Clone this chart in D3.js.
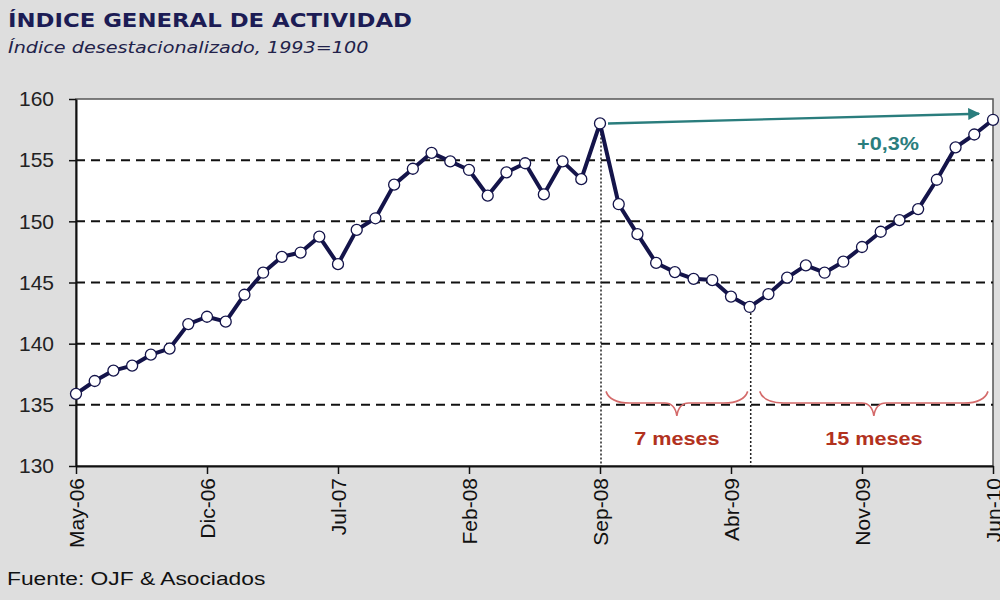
<!DOCTYPE html>
<html>
<head>
<meta charset="utf-8">
<script src="https://cdnjs.cloudflare.com/ajax/libs/d3/7.8.5/d3.min.js"></script>
<style>
  body { margin: 0; background: #dedede; }
  svg { display: block; }
</style>
</head>
<body>
<svg width="1000" height="600"></svg>
<script>
// months (May-06 .. Jun-10)
var months = [
  "May-06","Jun-06","Jul-06","Ago-06","Sep-06","Oct-06","Nov-06","Dic-06",
  "Ene-07","Feb-07","Mar-07","Abr-07","May-07","Jun-07","Jul-07","Ago-07",
  "Sep-07","Oct-07","Nov-07","Dic-07","Ene-08","Feb-08","Mar-08","Abr-08",
  "May-08","Jun-08","Jul-08","Ago-08","Sep-08","Oct-08","Nov-08","Dic-08",
  "Ene-09","Feb-09","Mar-09","Abr-09","May-09","Jun-09","Jul-09","Ago-09",
  "Sep-09","Oct-09","Nov-09","Dic-09","Ene-10","Feb-10","Mar-10","Abr-10",
  "May-10","Jun-10"
];
// index values
var values = [
  135.9, 136.95, 137.8, 138.2, 139.1, 139.6, 141.6, 142.2,
  141.8, 144.0, 145.8, 147.1, 147.45, 148.75, 146.5, 149.3,
  150.25, 153.0, 154.3, 155.6, 154.9, 154.2, 152.1, 154.0,
  154.75, 152.2, 154.9, 153.45, 158.0, 151.4, 148.95, 146.6,
  145.85, 145.3, 145.2, 143.85, 143.0, 144.05, 145.4, 146.4,
  145.8, 146.7, 147.9, 149.15, 150.1, 151.0, 153.4, 156.05,
  157.1, 158.3
];
var xTicks = ["May-06","Dic-06","Jul-07","Feb-08","Sep-08","Abr-09","Nov-09","Jun-10"];
var yTicks = [130, 135, 140, 145, 150, 155, 160];
var peakMonth = "Sep-08", troughMonth = "May-09";
var arrowEndValue = 158.8;
var braces = [
  { from: "Sep-08", to: "May-09", label: "7 meses" },
  { from: "May-09", to: "Jun-10", label: "15 meses" }
];

var mLeft = 76, mRight = 993, mTop = 99, mBottom = 466;
var stretch = 1.2; // the original picture is a bit wider than tall
var svg = d3.select("svg");

var x = d3.scalePoint().domain(months).range([mLeft, mRight]);
var y = d3.scaleLinear().domain([130, 160]).range([mBottom, mTop]);

function wideText(px, py, txt) {
  return svg.append("g")
    .attr("transform", "translate(" + px + "," + py + ") scale(" + stretch + ",1)")
    .append("text").text(txt);
}

// plot background
svg.append("rect")
  .attr("x", mLeft).attr("y", mTop)
  .attr("width", mRight - mLeft).attr("height", mBottom - mTop)
  .attr("fill", "#fff")
  .attr("stroke", "#555").attr("stroke-width", 1.5);

// dashed grid
svg.selectAll(".grid").data(yTicks.filter(function(d){ return d > 130 && d < 160; }))
  .enter().append("line")
  .attr("x1", mLeft).attr("x2", mRight)
  .attr("y1", function(d){ return y(d); }).attr("y2", function(d){ return y(d); })
  .attr("stroke", "#111").attr("stroke-width", 2)
  .attr("stroke-dasharray", "9,6");

// y axis
var yAxis = svg.append("g")
  .attr("transform", "translate(" + mLeft + ",0)")
  .call(d3.axisLeft(y).tickValues(yTicks).tickSize(7).tickSizeOuter(0).tickPadding(15));
yAxis.select(".domain").attr("stroke", "#111").attr("stroke-width", 2);
yAxis.selectAll(".tick line").attr("stroke", "#111").attr("stroke-width", 1.5);
yAxis.selectAll("text")
  .style("font-family", "'Liberation Sans', Arial, sans-serif")
  .style("font-size", "21px").attr("fill", "#222");

// x axis
var xAxis = svg.append("g")
  .attr("transform", "translate(0," + mBottom + ")")
  .call(d3.axisBottom(x).tickValues(xTicks).tickSize(8).tickSizeOuter(0));
xAxis.select(".domain").attr("stroke", "#111").attr("stroke-width", 2);
xAxis.selectAll(".tick line").attr("stroke", "#111").attr("stroke-width", 1.5);
xAxis.selectAll("text")
  .style("font-family", "'Liberation Sans', Arial, sans-serif")
  .style("font-size", "21px").attr("fill", "#111")
  .attr("transform", "rotate(-90)")
  .attr("x", -12).attr("y", 0).attr("dy", "0.36em")
  .style("text-anchor", "end");

// dotted verticals at peak and trough
[peakMonth, troughMonth].forEach(function(m){
  var i = months.indexOf(m);
  svg.append("line")
    .attr("x1", x(m) + 1).attr("x2", x(m) + 1)
    .attr("y1", y(values[i]) + 6).attr("y2", mBottom)
    .attr("stroke", "#222").attr("stroke-width", 1.5)
    .attr("stroke-dasharray", "2,2");
});

// braces
braces.forEach(function(b, k){
  var x1 = x(b.from) + (k === 0 ? 6 : 10), x2 = x(b.to) - (k === 0 ? 2 : 5);
  var xm = (x1 + x2) / 2;
  var yTop = y(136.1), yMid = y(135.15), yTip = y(134.1);
  var p = d3.path();
  p.moveTo(x1, yTop);
  p.quadraticCurveTo(x1 + 4, yMid, x1 + 24, yMid);
  p.lineTo(xm - 12, yMid);
  p.quadraticCurveTo(xm - 2, yMid, xm, yTip);
  p.quadraticCurveTo(xm + 2, yMid, xm + 12, yMid);
  p.lineTo(x2 - 24, yMid);
  p.quadraticCurveTo(x2 - 4, yMid, x2, yTop);
  svg.append("path").attr("d", p.toString())
    .attr("fill", "none").attr("stroke", "#d46a6a").attr("stroke-width", 1.6);
  wideText(xm, y(134.1) + 29, b.label)
    .attr("text-anchor", "middle")
    .style("font-family", "'Liberation Sans', Arial, sans-serif")
    .style("font-size", "18px").style("font-weight", "bold")
    .attr("fill", "#b2321e");
});

// line
var line = d3.line()
  .x(function(d, i){ return x(months[i]); })
  .y(function(d){ return y(d); });
svg.append("path").datum(values)
  .attr("d", line)
  .attr("fill", "none").attr("stroke", "#14144a")
  .attr("stroke-width", 4).attr("stroke-linejoin", "round");

svg.selectAll(".pt").data(values).enter().append("circle")
  .attr("cx", function(d, i){ return x(months[i]); })
  .attr("cy", function(d){ return y(d); })
  .attr("r", 5.5)
  .attr("fill", "#fff").attr("stroke", "#14144a").attr("stroke-width", 1.3);

// arrow
var defs = svg.append("defs");
defs.append("marker").attr("id", "arr")
  .attr("viewBox", "0 0 10 10").attr("refX", 9).attr("refY", 5)
  .attr("markerWidth", 5).attr("markerHeight", 5).attr("orient", "auto")
  .append("path").attr("d", "M0,0 L10,5 L0,10 z").attr("fill", "#2a7d7d");
var iPeak = months.indexOf(peakMonth);
svg.append("line")
  .attr("x1", x(peakMonth) + 8).attr("y1", y(values[iPeak]))
  .attr("x2", x(months[months.length - 1]) - 14).attr("y2", y(arrowEndValue))
  .attr("stroke", "#2a7d7d").attr("stroke-width", 2.4)
  .attr("marker-end", "url(#arr)");
wideText(888, 150, "+0,3%")
  .attr("text-anchor", "middle")
  .style("font-family", "'Liberation Sans', Arial, sans-serif")
  .style("font-size", "18px").style("font-weight", "bold")
  .attr("fill", "#2a7d7d");

// titles
wideText(8, 27, "ÍNDICE GENERAL DE ACTIVIDAD")
  .style("font-family", "Verdana, 'DejaVu Sans', sans-serif")
  .style("font-size", "19px").style("font-weight", "bold")
  .attr("fill", "#1c1c55");
wideText(8, 53, "Índice desestacionalizado, 1993=100")
  .style("font-family", "Verdana, 'DejaVu Sans', sans-serif")
  .style("font-size", "16px").style("font-style", "italic")
  .attr("fill", "#22224a");

// source
wideText(7, 585, "Fuente: OJF & Asociados")
  .style("font-family", "'Liberation Sans', Arial, sans-serif")
  .style("font-size", "19px")
  .attr("fill", "#111");
</script>
</body>
</html>
